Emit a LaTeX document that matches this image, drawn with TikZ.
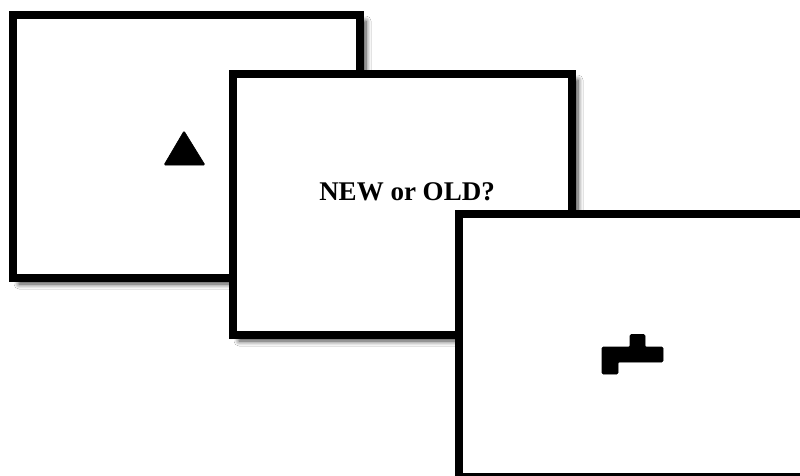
\documentclass[tikz,border=0pt]{standalone}
\usepackage{fontspec}
\setmainfont{Liberation Serif}
\usetikzlibrary{shadows.blur}
\tikzset{
  frame/.style={draw=black, fill=white, line width=8pt, inner sep=0pt,
    blur shadow={shadow xshift=6pt, shadow yshift=-6pt, shadow blur radius=5pt,
                 shadow blur steps=8, shadow opacity=75}},
  glyph/.style={fill=black, draw=black, line width=0.6pt, rounded corners=1.2pt},
  prompt/.style={font=\fontsize{27}{32}\selectfont\bfseries, inner sep=0pt}
}
\begin{document}
\begin{tikzpicture}[x=1pt,y=-1pt]
\useasboundingbox (0,0) rectangle (800,475);
\fill[white] (0,0) rectangle (800,475);
% frame 1
\node[frame, minimum width=347pt, minimum height=263pt] (f1) at (186.5,146.5) {};
\draw[glyph] (184,131) coordinate (t1) -- (205,165) coordinate (t2) -- (164,165) coordinate (t3) -- cycle;
% frame 2
\node[frame, minimum width=339pt, minimum height=261pt] (f2) at (402.5,204.5) {};
\node[prompt] (q) at (407,192) {NEW or OLD?};
% frame 3
\node[frame, minimum width=345pt, minimum height=263pt] (f3) at (631.5,345.5) {};
\draw[glyph] (602,347) -- (630,347) -- (630,334.5) -- (645,334.5) -- (645,347)
  -- (663,347) -- (663,362) -- (618,362) -- (618,374) -- (602,374) -- cycle;
\end{tikzpicture}
\end{document}
